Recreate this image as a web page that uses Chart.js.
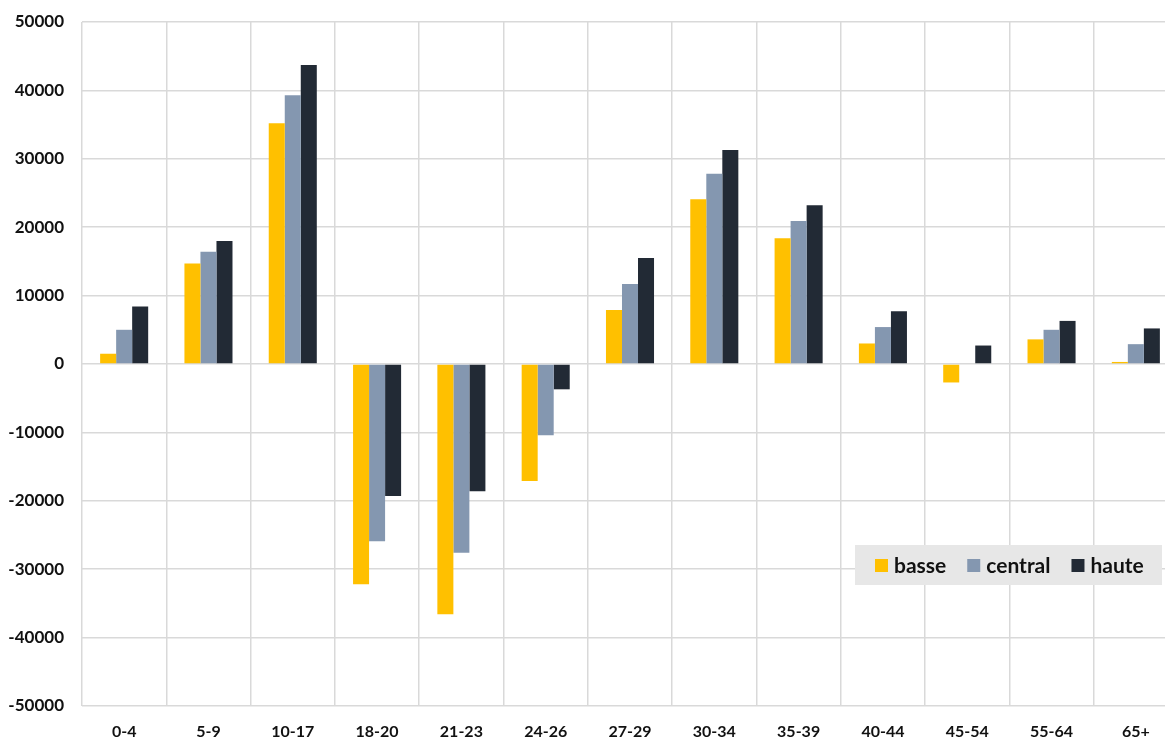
<!DOCTYPE html>
<html>
<head>
<meta charset="utf-8">
<script src="https://cdn.jsdelivr.net/npm/chart.js@4"></script>
<style>
  html, body { margin: 0; padding: 0; background: #fff; overflow: hidden; }
  #wrap { width: 1180px; height: 738px; }
</style>
</head>
<body>
<div id="wrap"><canvas id="chart"></canvas></div>
<script>
// age groups and the three scenarios
var ageGroups = ["0-4", "5-9", "10-17", "18-20", "21-23", "24-26", "27-29", "30-34", "35-39", "40-44", "45-54", "55-64", "65+"];
var basse   = [1500, 14700, 35200, -32200, -36600, -17100, 7900, 24100, 18400, 3000, -2700, 3600, 300];
var central = [5000, 16400, 39300, -25900, -27600, -10400, 11700, 27800, 20900, 5400, 0, 5000, 2900];
var haute   = [8400, 18000, 43700, -19300, -18600, -3700, 15500, 31300, 23200, 7700, 2700, 6300, 5200];
var yTicks  = [-50000, -40000, -30000, -20000, -10000, 0, 10000, 20000, 30000, 40000, 50000];

var gridColor = "#d9d9d9";
var fontFamily = "Lato, 'Open Sans', sans-serif";

// legend drawn inside the plot, on a grey box
var boxLegend = {
  id: "boxLegend",
  afterDraw: function (chart) {
    var ctx = chart.ctx;
    var x0 = 855, y0 = 545, w = 307, h = 40;
    ctx.save();
    ctx.fillStyle = "#e7e7e7";
    ctx.fillRect(x0, y0, w, h);
    ctx.font = "bold 21px " + fontFamily;
    ctx.textBaseline = "middle";
    var x = x0 + 20;
    var cy = y0 + h / 2;
    chart.data.datasets.forEach(function (ds) {
      ctx.fillStyle = ds.backgroundColor;
      ctx.fillRect(x, cy - 6, 13, 13);
      x += 19;
      ctx.fillStyle = "#111";
      ctx.fillText(ds.label, x, cy + 1);
      x += ctx.measureText(ds.label).width + 21;
    });
    ctx.restore();
  }
};

new Chart(document.getElementById("chart"), {
  type: "bar",
  data: {
    labels: ageGroups,
    datasets: [
      { label: "basse", data: basse, backgroundColor: "#ffc000" },
      { label: "central", data: central, backgroundColor: "#8497b0" },
      { label: "haute", data: haute, backgroundColor: "#222a35" }
    ]
  },
  options: {
    responsive: true,
    maintainAspectRatio: false,
    animation: false,
    layout: { padding: { top: 22, right: 2, left: 0, bottom: 0 } },
    datasets: {
      bar: { categoryPercentage: 0.57, barPercentage: 1, borderWidth: 0 }
    },
    plugins: {
      legend: { display: false },
      tooltip: { enabled: false }
    },
    scales: {
      x: {
        grid: { color: gridColor, lineWidth: 1.5, offset: true, drawTicks: false },
        border: { display: false },
        ticks: { color: "#111", font: { family: fontFamily, size: 16, weight: "bold" }, padding: 16, maxRotation: 0 },
        afterFit: function (s) { s.height = 32; }
      },
      y: {
        min: -50000,
        max: 50000,
        afterBuildTicks: function (s) { s.ticks = yTicks.map(function (v) { return { value: v }; }); },
        grid: { color: gridColor, lineWidth: 1.5, drawTicks: false },
        border: { display: false },
        ticks: {
          color: "#111",
          font: { family: fontFamily, size: 17, weight: "bold" },
          padding: 18,
          callback: function (v) { return String(v); }
        },
        afterFit: function (s) {
          s.width = 82;
          // let the end labels overhang the plot instead of shrinking it
          s.paddingTop = 0;
          s.paddingBottom = 0;
        }
      }
    }
  },
  plugins: [boxLegend]
});
</script>
</body>
</html>
